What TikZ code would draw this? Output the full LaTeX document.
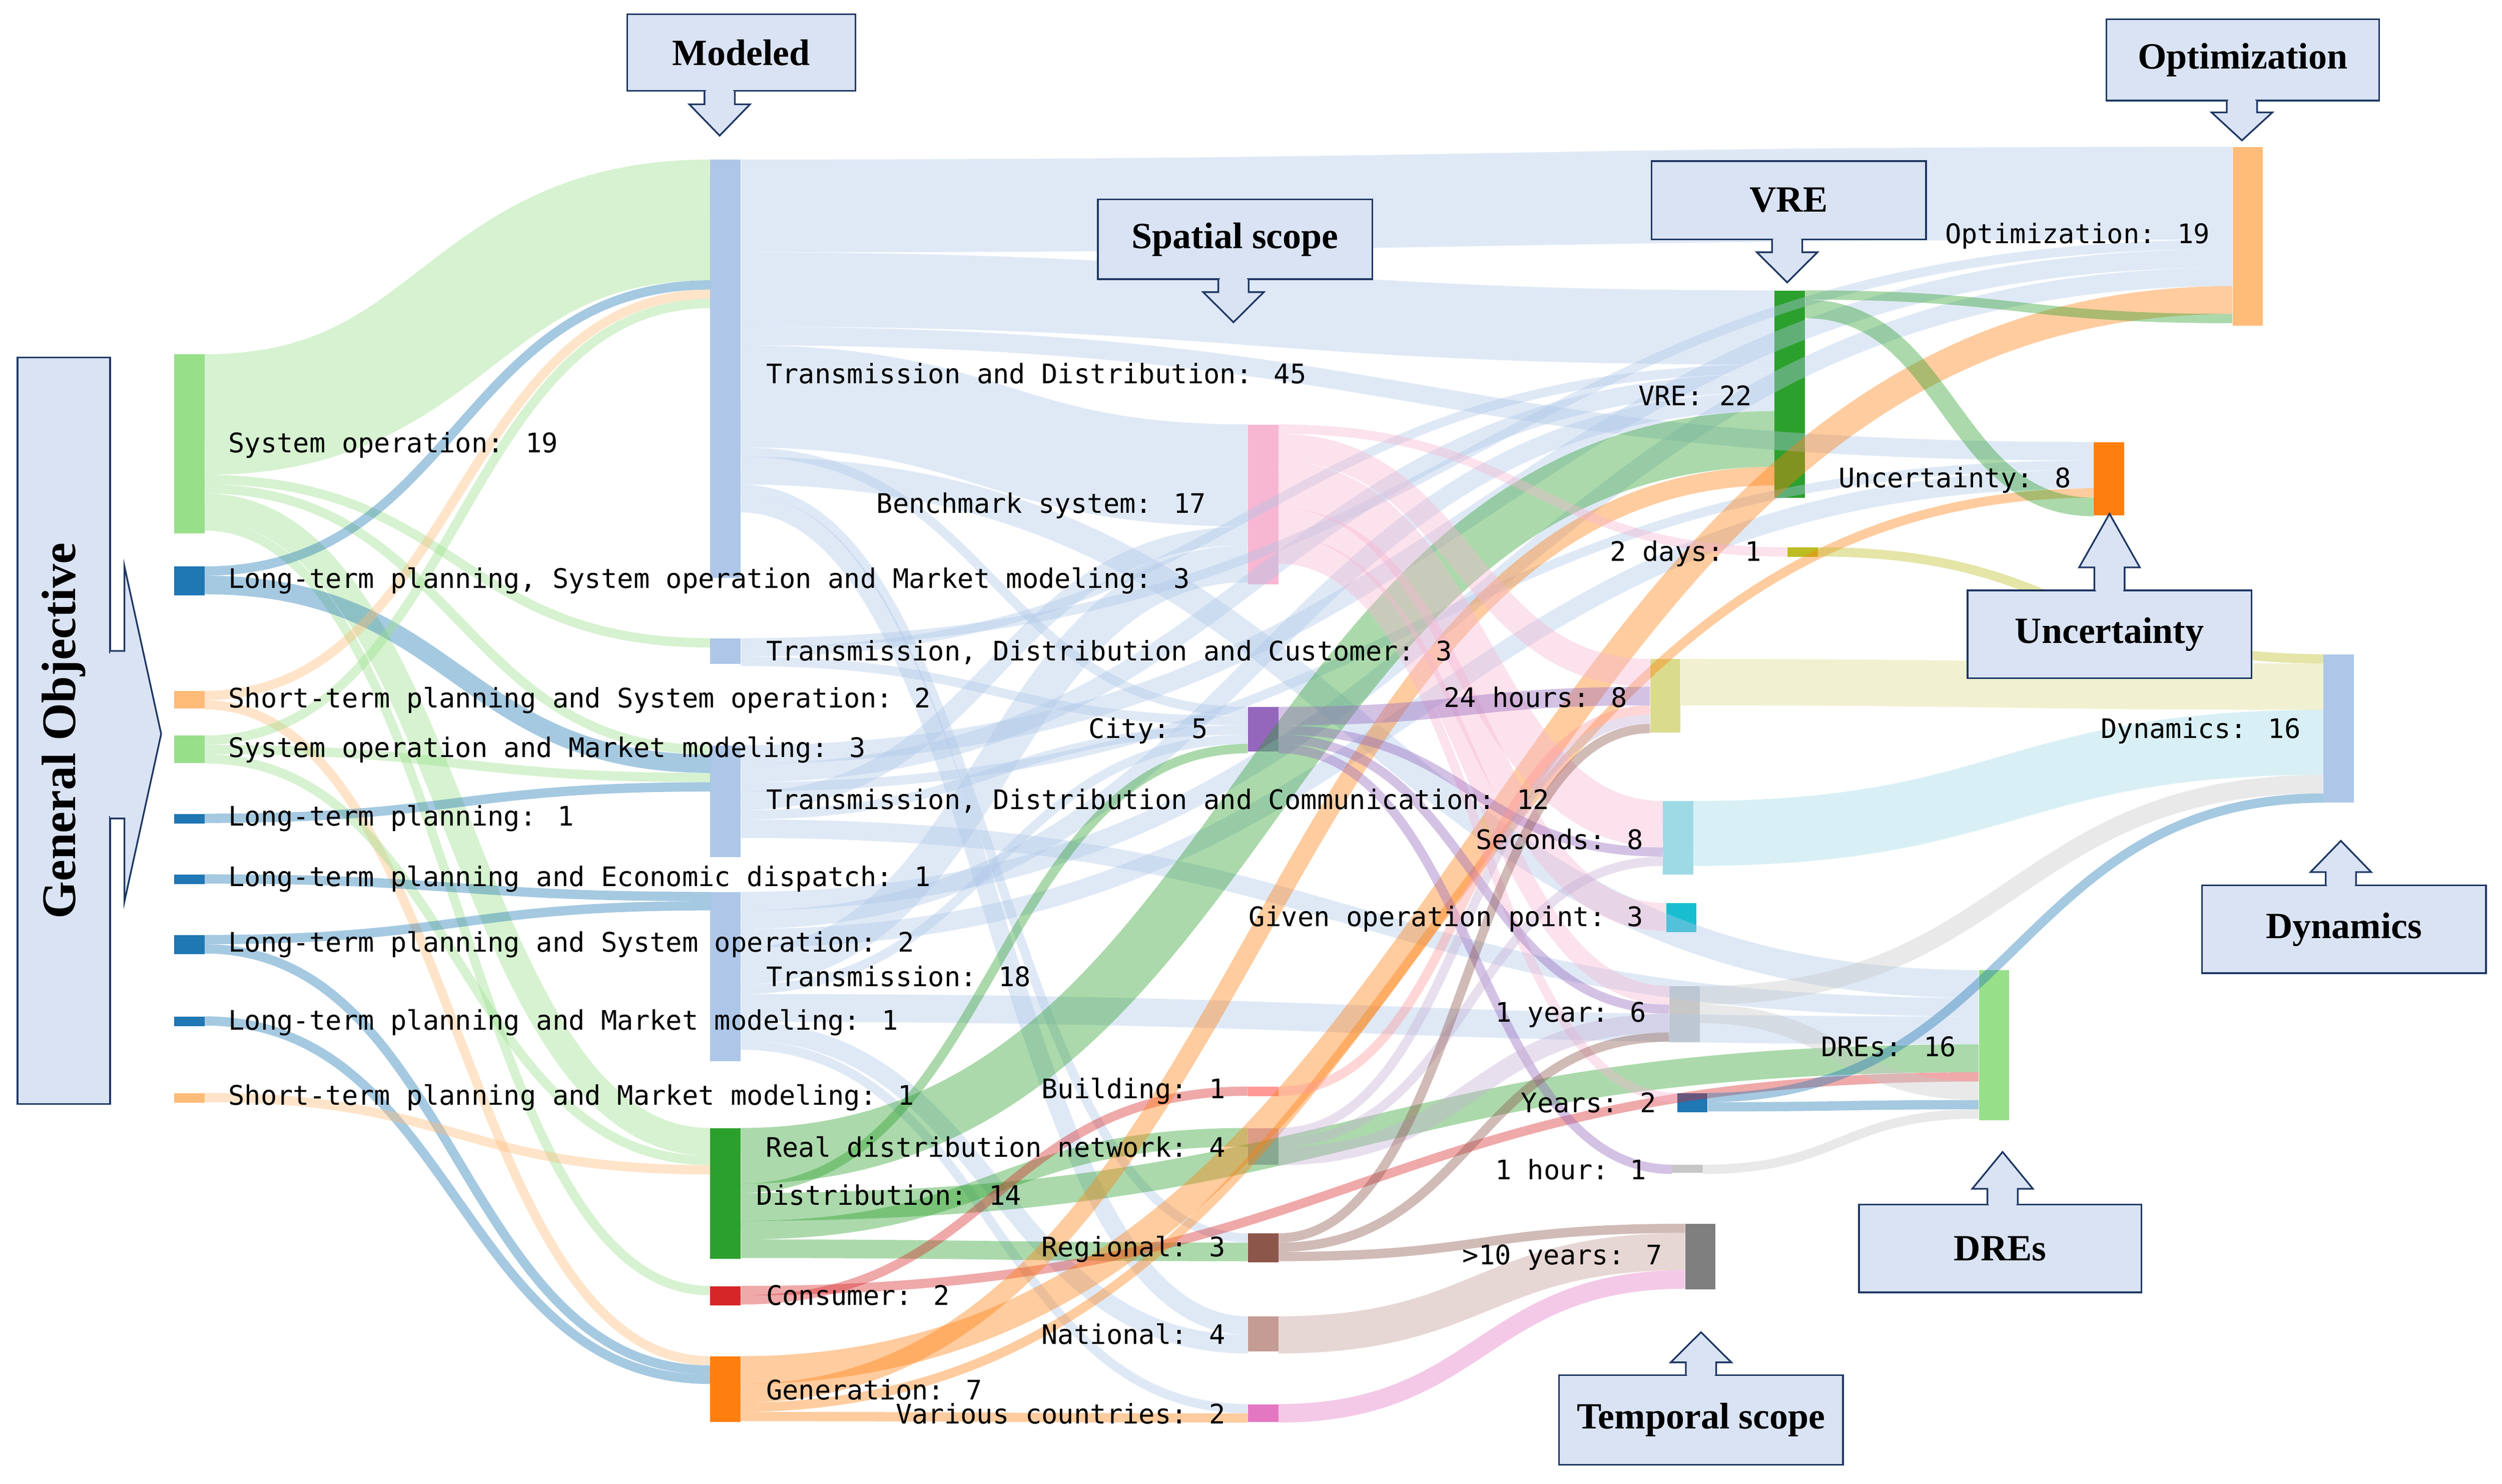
\documentclass[tikz,border=0pt]{standalone}
\usepackage{fontspec}
\setmainfont{Liberation Serif}
\newfontfamily\lblfont{DejaVu Sans Mono}
\usetikzlibrary{calc}
\definecolor{tabblue}{HTML}{1F77B4}
\definecolor{tablblue}{HTML}{AEC7E8}
\definecolor{taborange}{HTML}{FF7F0E}
\definecolor{tablorange}{HTML}{FFBB78}
\definecolor{tabgreen}{HTML}{2CA02C}
\definecolor{tablgreen}{HTML}{98DF8A}
\definecolor{tabred}{HTML}{D62728}
\definecolor{tablred}{HTML}{FF9896}
\definecolor{tabpurple}{HTML}{9467BD}
\definecolor{tablpurple}{HTML}{C5B0D5}
\definecolor{tabbrown}{HTML}{8C564B}
\definecolor{tablbrown}{HTML}{C49C94}
\definecolor{tabpink}{HTML}{E377C2}
\definecolor{tablpink}{HTML}{F7B6D2}
\definecolor{tabgray}{HTML}{7F7F7F}
\definecolor{tablgray}{HTML}{C7C7C7}
\definecolor{tabolive}{HTML}{BCBD22}
\definecolor{tablolive}{HTML}{DBDB8D}
\definecolor{tabcyan}{HTML}{17BECF}
\definecolor{tablcyan}{HTML}{9EDAE5}
\definecolor{boxfill}{RGB}{218,227,243}
\definecolor{boxline}{RGB}{31,56,100}
\newcommand{\pxu}{5.82}
% bar: name, x, top, bottom, colour
\newcommand{\sbar}[5]{%
  \node[bar,fill=#5,minimum height={(#4-#3)*0.05cm}] (#1) at (#2,#3) {};
  \expandafter\xdef\csname so@#1\endcsname{0}%
  \expandafter\xdef\csname si@#1\endcsname{0}}
% flow: source, target, value, colour
\newcommand{\sflow}[4]{%
  \pgfmathsetmacro\fw{#3*\pxu}%
  \pgfmathsetmacro\flw{\fw*0.05}%
  \pgfmathsetmacro\ya{\csname so@#1\endcsname+\fw/2}%
  \pgfmathsetmacro\yb{\csname si@#2\endcsname+\fw/2}%
  \coordinate (fa) at ($(#1.north east)+(0,\ya)$);
  \coordinate (fb) at ($(#2.north west)+(0,\yb)$);
  \coordinate (fm) at ($(fa)!0.5!(fb)$);
  \draw[link,#4,line width=\flw cm] (fa) .. controls (fa -| fm) and (fb -| fm) .. (fb);
  \pgfmathsetmacro\ya{\csname so@#1\endcsname+\fw}\expandafter\xdef\csname so@#1\endcsname{\ya}%
  \pgfmathsetmacro\yb{\csname si@#2\endcsname+\fw}\expandafter\xdef\csname si@#2\endcsname{\yb}}
% callout arrow: centre x, box edge y, tip y
\newcommand{\callarrow}[3]{%
  \pgfmathsetmacro\ys{#2+0.3*(#3-#2)}%
  \draw[callout] (#1-9.5,#2) -- (#1-9.5,\ys) -- (#1-19,\ys) -- (#1,#3) -- (#1+19,\ys) -- (#1+9.5,\ys) -- (#1+9.5,#2);
  \fill[boxfill] (#1-8.5,#2-1.5) rectangle (#1+8.5,#2+1.5);}
\tikzset{
  bar/.style={draw=none,inner sep=0pt,minimum width=0.95cm,anchor=north west},
  link/.style={line cap=butt,opacity=0.4},
  lbl/.style={font=\lblfont\fontsize{24}{26}\selectfont,inner sep=0pt},
  callout/.style={draw=boxline,fill=boxfill,line width=1.5pt,line join=miter},
  callbox/.style={callout,inner sep=0pt,font=\bfseries\fontsize{33}{36}\selectfont},
}
\begin{document}
\begin{tikzpicture}[x=0.05cm,y=-0.05cm]
\useasboundingbox (0,0) rectangle (1568,930);
% bars
\sbar{sysop}{109}{222}{334}{tablgreen}
\sbar{ltsm}{109}{355}{373}{tabblue}
\sbar{stso}{109}{433}{444}{tablorange}
\sbar{somm}{109}{461}{478}{tablgreen}
\sbar{ltp}{109}{510}{516}{tabblue}
\sbar{lted}{109}{548}{554}{tabblue}
\sbar{ltso}{109}{586}{598}{tabblue}
\sbar{ltmm}{109}{637}{643}{tabblue}
\sbar{stmm}{109}{685}{691}{tablorange}
\sbar{td}{445}{100}{362}{tablblue}
\sbar{tdcu}{445}{400}{416}{tablblue}
\sbar{tdco}{445}{467}{537}{tablblue}
\sbar{trans}{445}{559}{665}{tablblue}
\sbar{dist}{445}{707}{789}{tabgreen}
\sbar{cons}{445}{806}{818}{tabred}
\sbar{gen}{445}{850}{891}{taborange}
\sbar{bench}{782}{266}{366}{tablpink}
\sbar{city}{782}{443}{471}{tabpurple}
\sbar{build}{782}{681}{687}{tablred}
\sbar{real}{782}{707}{730}{tablpurple}
\sbar{regio}{782}{773}{791}{tabbrown}
\sbar{natio}{782}{825}{847}{tablbrown}
\sbar{vario}{782}{880}{891}{tabpink}
\sbar{twod}{1120}{343}{349}{tabolive}
\sbar{hours}{1034}{413}{459}{tablolive}
\sbar{secs}{1042}{502}{548}{tablcyan}
\sbar{given}{1044}{566}{584}{tabcyan}
\sbar{oneyr}{1046}{618}{653}{tablgray}
\sbar{years}{1051}{685}{697}{tabblue}
\sbar{onehr}{1048}{730}{735}{tablgray}
\sbar{tenyr}{1056}{767}{808}{tabgray}
\sbar{vre}{1112}{182}{312}{tabgreen}
\sbar{dres}{1240}{608}{702}{tablgreen}
\sbar{opt}{1399}{92}{204}{tablorange}
\sbar{unc}{1312}{277}{323}{taborange}
\sbar{dyn}{1456}{410}{503}{tablblue}
% general objective -> modeled
\sflow{sysop}{td}{13}{tablgreen}
\sflow{sysop}{tdcu}{1}{tablgreen}
\sflow{sysop}{tdco}{1}{tablgreen}
\sflow{sysop}{dist}{3}{tablgreen}
\sflow{sysop}{cons}{1}{tablgreen}
\sflow{ltsm}{td}{1}{tabblue}
\sflow{ltsm}{tdco}{2}{tabblue}
\sflow{stso}{td}{1}{tablorange}
\sflow{stso}{gen}{1}{tablorange}
\sflow{somm}{td}{1}{tablgreen}
\sflow{somm}{tdco}{1}{tablgreen}
\sflow{somm}{dist}{1}{tablgreen}
\sflow{ltp}{tdco}{1}{tabblue}
\sflow{lted}{trans}{1}{tabblue}
\sflow{ltso}{trans}{1}{tabblue}
\sflow{ltso}{gen}{1}{tabblue}
\sflow{ltmm}{gen}{1}{tabblue}
\sflow{stmm}{dist}{1}{tablorange}
% modeled -> spatial scope, VRE, DREs, optimization, uncertainty
\sflow{td}{opt}{10}{tablblue}
\sflow{td}{vre}{8}{tablblue}
\sflow{td}{unc}{2}{tablblue}
\sflow{td}{bench}{11}{tablblue}
\sflow{td}{city}{1}{tablblue}
\sflow{td}{dres}{3}{tablblue}
\sflow{td}{regio}{1}{tablblue}
\sflow{td}{natio}{2}{tablblue}
\sflow{tdcu}{opt}{1}{tablblue}
\sflow{tdcu}{vre}{1}{tablblue}
\sflow{tdcu}{city}{1}{tablblue}
\sflow{tdco}{opt}{2}{tablblue}
\sflow{tdco}{vre}{2}{tablblue}
\sflow{tdco}{unc}{1}{tablblue}
\sflow{tdco}{bench}{2}{tablblue}
\sflow{tdco}{city}{1}{tablblue}
\sflow{tdco}{dres}{2}{tablblue}
\sflow{trans}{opt}{2}{tablblue}
\sflow{trans}{vre}{2}{tablblue}
\sflow{trans}{unc}{2}{tablblue}
\sflow{trans}{bench}{4}{tablblue}
\sflow{trans}{city}{1}{tablblue}
\sflow{trans}{dres}{3}{tablblue}
\sflow{trans}{natio}{2}{tablblue}
\sflow{trans}{vario}{1}{tablblue}
\sflow{dist}{vre}{6}{tabgreen}
\sflow{dist}{city}{1}{tabgreen}
\sflow{dist}{dres}{3}{tabgreen}
\sflow{dist}{real}{2}{tabgreen}
\sflow{dist}{regio}{2}{tabgreen}
\sflow{cons}{dres}{1}{tabred}
\sflow{cons}{build}{1}{tabred}
\sflow{gen}{opt}{3}{taborange}
\sflow{gen}{vre}{2}{taborange}
\sflow{gen}{unc}{1}{taborange}
\sflow{gen}{vario}{1}{taborange}
% spatial scope -> temporal scope
\sflow{bench}{twod}{1}{tablpink}
\sflow{bench}{hours}{3}{tablpink}
\sflow{bench}{secs}{5}{tablpink}
\sflow{bench}{given}{3}{tablpink}
\sflow{bench}{oneyr}{2}{tablpink}
\sflow{bench}{years}{1}{tablpink}
\sflow{city}{hours}{2}{tabpurple}
\sflow{city}{secs}{1}{tabpurple}
\sflow{city}{oneyr}{1}{tabpurple}
\sflow{city}{onehr}{1}{tabpurple}
\sflow{build}{hours}{1}{tablred}
\sflow{real}{hours}{1}{tablpurple}
\sflow{real}{secs}{1}{tablpurple}
\sflow{real}{oneyr}{2}{tablpurple}
\sflow{regio}{hours}{1}{tabbrown}
\sflow{regio}{oneyr}{1}{tabbrown}
\sflow{regio}{tenyr}{1}{tabbrown}
\sflow{natio}{tenyr}{4}{tablbrown}
\sflow{vario}{tenyr}{2}{tabpink}
% VRE and temporal scope -> right hand side
\sflow{vre}{opt}{1}{tabgreen}
\sflow{vre}{unc}{2}{tabgreen}
\sflow{twod}{dyn}{1}{tabolive}
\sflow{hours}{dyn}{5}{tablolive}
\sflow{secs}{dyn}{7}{tablcyan}
\sflow{oneyr}{dyn}{2}{tablgray}
\sflow{oneyr}{dres}{2}{tablgray}
\sflow{years}{dyn}{1}{tabblue}
\sflow{years}{dres}{1}{tabblue}
\sflow{onehr}{dres}{1}{tablgray}
% labels
\node[lbl,anchor=west] (lsysop) at (143,279) {System operation: 19};
\node[lbl,anchor=west] (lltsm) at (143,364) {Long-term planning, System operation and Market modeling: 3};
\node[lbl,anchor=west] (lstso) at (143,439) {Short-term planning and System operation: 2};
\node[lbl,anchor=west] (lsomm) at (143,470) {System operation and Market modeling: 3};
\node[lbl,anchor=west] (lltp) at (143,513) {Long-term planning: 1};
\node[lbl,anchor=west] (llted) at (143,551) {Long-term planning and Economic dispatch: 1};
\node[lbl,anchor=west] (lltso) at (143,592) {Long-term planning and System operation: 2};
\node[lbl,anchor=west] (lltmm) at (143,641) {Long-term planning and Market modeling: 1};
\node[lbl,anchor=west] (lstmm) at (143,688) {Short-term planning and Market modeling: 1};
\node[lbl,anchor=west] (ltd) at (480,234) {Transmission and Distribution: 45};
\node[lbl,anchor=west] (ltdcu) at (480,409) {Transmission, Distribution and Customer: 3};
\node[lbl,anchor=west] (ltdco) at (480,502) {Transmission, Distribution and Communication: 12};
\node[lbl,anchor=west] (ltrans) at (480,612) {Transmission: 18};
\node[lbl,anchor=west] (ldist) at (474,749) {Distribution: 14};
\node[lbl,anchor=west] (lcons) at (480,812) {Consumer: 2};
\node[lbl,anchor=west] (lgen) at (480,871) {Generation: 7};
\node[lbl,anchor=east] (lbench) at (756,317) {Benchmark system: 17};
\node[lbl,anchor=east] (lcity) at (757,458) {City: 5};
\node[lbl,anchor=east] (lbuild) at (768,684) {Building: 1};
\node[lbl,anchor=east] (lreal) at (768,719) {Real distribution network: 4};
\node[lbl,anchor=east] (lregio) at (768,783) {Regional: 3};
\node[lbl,anchor=east] (lnatio) at (768,836) {National: 4};
\node[lbl,anchor=east] (lvario) at (768,886) {Various countries: 2};
\node[lbl,anchor=east] (ltwod) at (1104,347) {2 days: 1};
\node[lbl,anchor=east] (lhours) at (1020,437) {24 hours: 8};
\node[lbl,anchor=east] (lsecs) at (1030,526) {Seconds: 8};
\node[lbl,anchor=east] (lgiven) at (1030,576) {Given operation point: 3};
\node[lbl,anchor=east] (loneyr) at (1032,636) {1 year: 6};
\node[lbl,anchor=east] (lyears) at (1038,691) {Years: 2};
\node[lbl,anchor=east] (lonehr) at (1032,733) {1 hour: 1};
\node[lbl,anchor=east] (ltenyr) at (1042,788) {>10 years: 7};
\node[lbl,anchor=east] (lvre) at (1098,248) {VRE: 22};
\node[lbl,anchor=east] (ldres) at (1226,656) {DREs: 16};
\node[lbl,anchor=east] (lopt) at (1385,148) {Optimization: 19};
\node[lbl,anchor=east] (lunc) at (1298,301) {Uncertainty: 8};
\node[lbl,anchor=east] (ldyn) at (1442,458) {Dynamics: 16};
% callouts
\node[callbox,minimum width=7.15cm,minimum height=2.4cm] (cmod) at (464.5,33) {Modeled};
\callarrow{451}{57}{85}
\node[callbox,minimum width=8.6cm,minimum height=2.5cm] (cspat) at (774,150) {Spatial scope};
\callarrow{773}{175}{202}
\node[callbox,minimum width=8.6cm,minimum height=2.45cm] (cvre) at (1121,125.5) {VRE};
\callarrow{1120}{150}{177}
\node[callbox,minimum width=8.55cm,minimum height=2.55cm] (copt) at (1405.5,37.5) {Optimization};
\callarrow{1405}{63}{88}
\node[callbox,minimum width=8.9cm,minimum height=2.75cm] (cunc) at (1322,397.5) {Uncertainty};
\callarrow{1322}{370}{322}
\node[callbox,minimum width=8.9cm,minimum height=2.75cm] (cdyn) at (1469,582.5) {Dynamics};
\callarrow{1467}{555}{527}
\node[callbox,minimum width=8.85cm,minimum height=2.75cm] (cdres) at (1253.5,782.5) {DREs};
\callarrow{1255}{755}{722}
\node[callbox,minimum width=8.9cm,minimum height=2.8cm] (ctemp) at (1066,890) {Temporal scope};
\callarrow{1066}{862}{835}
\node[callbox,minimum width=2.9cm,minimum height=23.4cm] (cgen) at (40,458) {};
\node[font=\bfseries\fontsize{43}{46}\selectfont,rotate=90] (tgen) at (cgen) {General Objective};
\draw[callout] (69,408) -- (78,408) -- (78,355) -- (101,460) -- (78,565) -- (78,513) -- (69,513);
\fill[boxfill] (68,409.5) rectangle (70.5,511.5);
\end{tikzpicture}
\end{document}
